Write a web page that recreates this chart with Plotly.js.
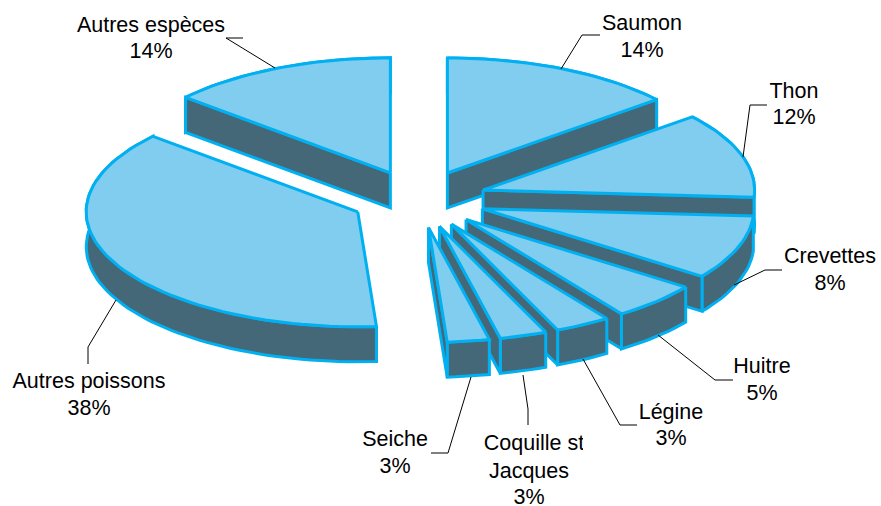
<!DOCTYPE html>
<html>
<head>
<meta charset="utf-8">
<script src="https://cdn.plot.ly/plotly-3.0.1.min.js"></script>
<style>html,body{margin:0;padding:0;background:#fff}#c{width:881px;height:506px}</style>
</head>
<body>
<div id="c"></div>
<script>
// Data
const categories = ["Saumon","Thon","Crevettes","Huitre","Légine","Coquille st Jacques","Seiche","Autres poissons","Autres espèces"];
const values = [14, 12, 9.0, 5.3, 3.3, 2.8, 2.5, 37.5, 13.6];
const drawOrder = [0, 8, 1, 2, 3, 4, 5, 6, 7];

// Label text
const labelLines = ["Saumon","14%","Thon","12%","Crevettes","8%","Huitre","5%","Légine","3%","Coquille st","Jacques","3%","Seiche","3%","Autres poissons","38%","Autres espèces","14%"];
const labelX = [642,642,794,794,830,830,762,762,671,671,534,529,529,395,395,89,89,151,151];
const labelY = [25,52,93,119,258,285,368,395,414,440,445,473,499,441,468,383,410,27,53];

// Leader lines
const leaderX = [[600,582,561],[767,750,743],[782,765,734],[733,715,658],[637,620,583],[528,528,523],[431,448,471],[88,88,116],[243,226,275]];
const leaderY = [[35,35,69],[105,105,157],[270,270,285],[380,380,335],[425,425,359],[425,409,375],[453,453,377],[364,347,300],[38,38,68]];

// Pie geometry
const cx = 418.5, cy = 199, rx = 271.5, ry = 115, depth = 35, explode = 0.25;
const topColor = "#80CDF0", sideColor = "#456878", edge = "#00B0F0", edgeW = 3;

const total = values.reduce((a, b) => a + b, 0);
const rad = d => d * Math.PI / 180;
let acc = 0;
const spans = values.map(v => { const s = acc; acc += v / total * 360; return [s, acc]; });

function pt(tip, a, drop) {
  return [tip[0] + rx * Math.sin(rad(a)), tip[1] - ry * Math.cos(rad(a)) + drop];
}
function arc(tip, a0, a1, drop) {
  const n = Math.max(4, Math.ceil((a1 - a0) / 2)), out = [];
  for (let i = 0; i <= n; i++) out.push(pt(tip, a0 + (a1 - a0) * i / n, drop));
  return out;
}
function poly(points, color, name) {
  const p = points.concat([points[0]]);
  return {type: "scatter", mode: "lines", x: p.map(q => q[0]), y: p.map(q => q[1]),
    fill: "toself", fillcolor: color, line: {color: edge, width: edgeW, shape: "linear"},
    hoverinfo: "skip", showlegend: false, name: name};
}

const traces = [];
drawOrder.forEach(i => {
  const [a0, a1] = spans[i], mid = (a0 + a1) / 2;
  const tip = [cx + explode * rx * Math.sin(rad(mid)), cy - explode * ry * Math.cos(rad(mid))];
  const base = [tip[0], tip[1] + depth];
  // outer rim
  traces.push(poly(arc(tip, a0, a1, 0).concat(arc(tip, a0, a1, depth).reverse()), sideColor, categories[i]));
  // the radial wall that faces the viewer
  const wall = a => poly([tip, pt(tip, a, 0), pt(tip, a, depth), base], sideColor, categories[i]);
  if (a1 <= 180) traces.push(wall(a1));
  else if (a0 >= 180) traces.push(wall(a0));
  // top face
  traces.push(poly([tip].concat(arc(tip, a0, a1, 0)), topColor, categories[i]));
});

leaderX.forEach((xs, i) => traces.push({type: "scatter", mode: "lines", x: xs, y: leaderY[i],
  line: {color: "#000", width: 1}, hoverinfo: "skip", showlegend: false}));

traces.push({type: "scatter", mode: "text", x: labelX, y: labelY, text: labelLines,
  textposition: "middle center", textfont: {family: "Liberation Sans, Arial, sans-serif", size: 21.5, color: "#000"},
  hoverinfo: "skip", showlegend: false, cliponaxis: false});

const layout = {
  width: 881, height: 506, margin: {l: 0, r: 0, t: 0, b: 0},
  paper_bgcolor: "#fff", plot_bgcolor: "#fff", showlegend: false,
  xaxis: {range: [0, 881], visible: false, fixedrange: true},
  yaxis: {range: [506, 0], visible: false, fixedrange: true},
  shapes: [{type: "rect", xref: "x", yref: "y", x0: 583, x1: 592, y0: 430, y1: 459,
    fillcolor: "#fff", line: {width: 0}, layer: "above"}]
};
Plotly.newPlot("c", traces, layout, {displayModeBar: false, staticPlot: true});
</script>
</body>
</html>
